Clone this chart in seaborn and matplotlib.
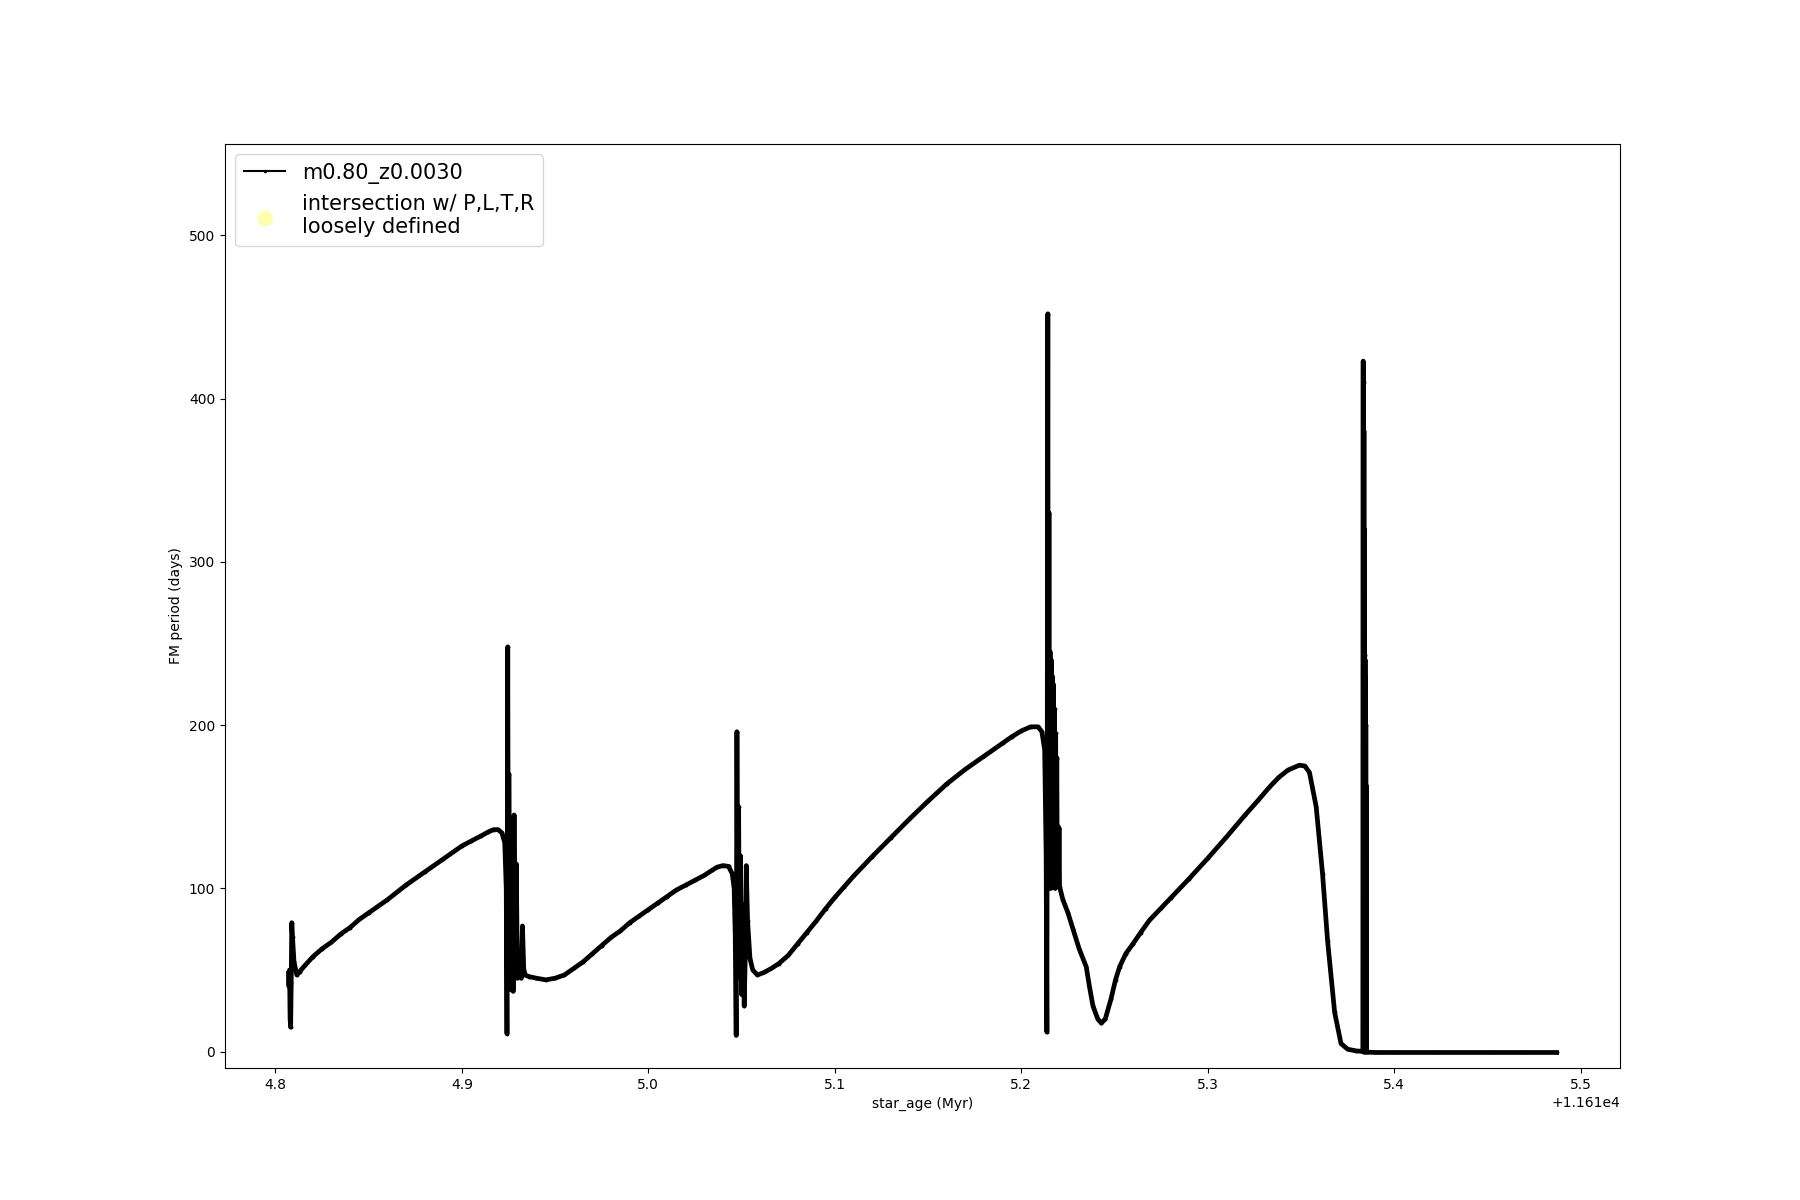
import numpy as np
import pandas as pd
import matplotlib
matplotlib.use("Agg")
import matplotlib.pyplot as plt
import seaborn as sns
from matplotlib.lines import Line2D

# star age in Myr, offset from 11610 Myr
AGE_BASE = 11610.0
age_offset = [
    # first blue loop start
    4.8070, 4.8073, 4.8076, 4.8079, 4.8082, 4.8085, 4.8088, 4.8092, 4.8100, 4.8115,
    4.8130, 4.8160, 4.8200, 4.8250, 4.8300, 4.8350, 4.8400, 4.8450, 4.8500, 4.8600,
    4.8700, 4.8800, 4.8900, 4.9000, 4.9050, 4.9100, 4.9140, 4.9170, 4.9195, 4.9215,
    4.9230, 4.9238,
    # first spike cluster
    4.9242, 4.9246, 4.9250, 4.9252, 4.9256, 4.9260, 4.9264, 4.9270, 4.9275, 4.9280,
    4.9286, 4.9292, 4.9298, 4.9310, 4.9318, 4.9325, 4.9332, 4.9340, 4.9360, 4.9400,
    4.9450, 4.9500, 4.9550, 4.9600, 4.9650, 4.9700, 4.9750, 4.9800, 4.9850, 4.9900,
    4.9950, 5.0000, 5.0050, 5.0100, 5.0150, 5.0200, 5.0250, 5.0300, 5.0340, 5.0368,
    5.0400, 5.0430, 5.0450, 5.0460, 5.0466,
    # second spike cluster
    5.0471, 5.0475, 5.0479, 5.0484, 5.0489, 5.0494, 5.0500, 5.0506, 5.0514, 5.0520,
    5.0525, 5.0532, 5.0545, 5.0560, 5.0585, 5.0620, 5.0660, 5.0700, 5.0750, 5.0800,
    5.0850, 5.0900, 5.0950, 5.1000, 5.1050, 5.1100, 5.1200, 5.1300, 5.1400, 5.1500,
    5.1600, 5.1700, 5.1800, 5.1900, 5.1950, 5.2000, 5.2050, 5.2090, 5.2110, 5.2125,
    5.2133,
    # third spike cluster
    5.2137, 5.2142, 5.2145, 5.2148, 5.2151, 5.2154, 5.2157, 5.2160, 5.2163, 5.2166,
    5.2169, 5.2172, 5.2175, 5.2178, 5.2181, 5.2184, 5.2187, 5.2190, 5.2193, 5.2196,
    5.2199, 5.2202, 5.2205, 5.2223, 5.2250, 5.2277, 5.2310, 5.2348, 5.2365, 5.2384,
    5.2410, 5.2429, 5.2450, 5.2480, 5.2505, 5.2527, 5.2560, 5.2598, 5.2640, 5.2687,
    5.2750, 5.2800, 5.2900, 5.3000, 5.3100, 5.3200, 5.3270, 5.3330, 5.3380, 5.3430,
    5.3491, 5.3520, 5.3545, 5.3581, 5.3615, 5.3642, 5.3680, 5.3714, 5.3750, 5.3794,
    5.3825, 5.3831,
    # last spike cluster
    5.3833, 5.3834, 5.3835, 5.3836, 5.3837, 5.3838, 5.3839, 5.3840, 5.3841, 5.3842,
    5.3843, 5.3844, 5.3845, 5.3846, 5.3847, 5.3848, 5.3849, 5.3850, 5.3852, 5.3860,
    5.3900, 5.4000, 5.4200, 5.4500, 5.4700, 5.4870,
]
fm_period = [
    48, 40, 50, 20, 15, 42, 79, 70, 55, 47,
    49, 53, 58, 63, 67, 72, 76, 81, 85, 93,
    102, 110, 118, 126, 129, 132, 134.5, 136, 136, 134,
    128, 100,
    11, 248, 40, 170, 60, 140, 38, 100, 37, 145,
    50, 115, 45, 60, 45, 77, 50, 47, 46, 45,
    44, 45, 47, 51, 55, 60, 65, 70, 74, 79,
    83, 87, 91, 95, 99, 102, 105, 108, 111, 113,
    114, 113.5, 109, 100, 70,
    10, 196, 80, 150, 45, 120, 35, 90, 28, 60,
    114, 80, 57, 50, 47, 48.5, 51, 54, 59, 66,
    73, 80, 87.5, 94.5, 101, 107.5, 119.5, 131, 142.5, 153.5,
    164, 173, 181, 189, 193, 196.5, 199, 199, 196, 185,
    120,
    12, 452, 100, 330, 102, 245, 100, 240, 103, 230,
    101, 225, 104, 210, 100, 195, 102, 180, 104, 138,
    101, 137, 101, 93, 85, 75, 63, 52, 40, 28,
    20, 17.5, 20, 32, 44, 52, 60, 66, 73, 80.5,
    88, 94, 106, 118.5, 131.5, 145, 154, 162, 168, 172.5,
    175.5, 175, 171, 150, 109, 68, 24, 5, 1.5, 0.5,
    0.2, 0,
    423, 1, 410, 0, 380, 2, 320, 0, 243, 1,
    240, 0, 230, 1, 200, 0, 163, 0, 0, -0.3,
    -0.5, -0.5, -0.5, -0.5, -0.5, -0.5,
]

track_label = "m0.80_z0.0030"
intersect_label = "intersection w/ P,L,T,R\nloosely defined"

df = pd.DataFrame({
    "star_age": np.array(age_offset) + AGE_BASE,
    "period": fm_period,
})

fig, ax = plt.subplots(figsize=(18, 12), dpi=100)

sns.lineplot(data=df, x="star_age", y="period", sort=False, estimator=None,
             color="black", lw=3.4, marker=".", markersize=4,
             markeredgecolor="black", ax=ax)

# no intersection points for this track, but keep the legend entry
pts = ax.scatter([], [], s=100, color="yellow", alpha=0.3, label=intersect_label)

ax.set_ylim(-10, 556)
ax.set_xlabel("star_age (Myr)")
ax.set_ylabel("FM period (days)")

handles = [Line2D([], [], color="black", lw=1.5, marker=".", markersize=3), pts]
ax.legend(handles, [track_label, intersect_label], loc="upper left", fontsize=15)

fig.savefig("out.png", dpi=100)
